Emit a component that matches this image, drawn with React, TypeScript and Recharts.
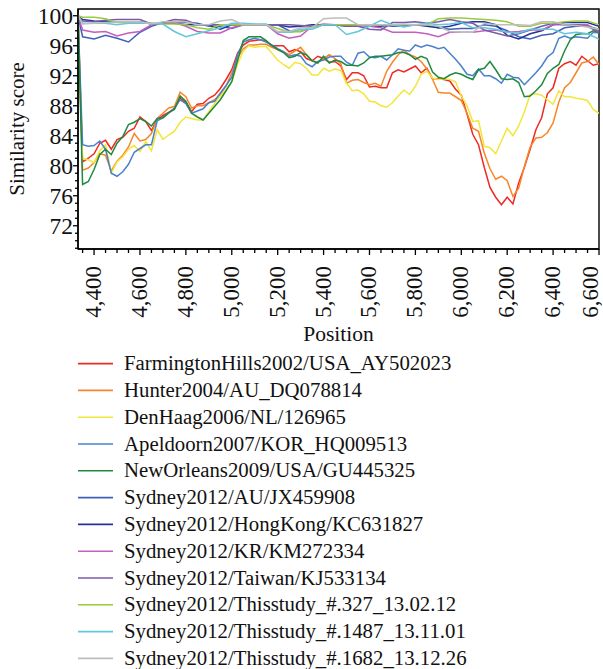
import React from 'react';
import { LineChart, Line, XAxis, YAxis, ReferenceArea } from 'recharts';

const FONT = '"Liberation Serif", "Times New Roman", serif';

// sampling positions (nt) for the strongly varying strains
const POS_FINE = [
    4330, 4350, 4375, 4400, 4425, 4450, 4475, 4500, 4525, 4550, 4575, 4600, 4625, 4650, 4675, 4700,
    4725, 4750, 4775, 4800, 4825, 4850, 4875, 4900, 4925, 4950, 4975, 5000, 5025, 5050, 5075, 5100,
    5125, 5150, 5175, 5200, 5225, 5250, 5275, 5300, 5325, 5350, 5375, 5400, 5425, 5450, 5475, 5500,
    5525, 5550, 5575, 5600, 5625, 5650, 5675, 5700, 5725, 5750, 5775, 5800, 5825, 5850, 5875, 5900,
    5925, 5950, 5975, 6000, 6025, 6050, 6075, 6100, 6125, 6150, 6175, 6200, 6225, 6250, 6275, 6300,
    6325, 6350, 6375, 6400, 6425, 6450, 6475, 6500, 6525, 6550, 6575, 6600,
];

// sampling positions for the Sydney2012 strains (all close to 100%)
const POS_COARSE = [
    4330, 4350, 4400, 4450, 4500, 4550, 4600, 4650, 4700, 4750,
    4800, 4850, 4900, 4950, 5000, 5050, 5100, 5150, 5200, 5250,
    5300, 5350, 5400, 5450, 5500, 5550, 5600, 5650, 5700, 5750,
    5800, 5850, 5900, 5950, 6000, 6050, 6100, 6150, 6200, 6250,
    6300, 6350, 6400, 6450, 6500, 6550, 6600,
];

const FARMINGTON = [
    100, 80.5, 81.0, 81.6, 83.0, 83.4, 82.2, 83.5, 83.8, 84.6,
    85.0, 86.5, 85.9, 84.7, 86.2, 86.7, 87.1, 87.6, 89.0, 88.5,
    87.2, 88.2, 88.3, 89.0, 89.4, 90.3, 91.5, 92.8, 95.0, 96.1,
    96.6, 96.7, 96.8, 96.6, 96.0, 96.0, 96.0, 95.2, 95.5, 95.2,
    94.3, 94.0, 94.6, 94.3, 93.8, 93.9, 93.3, 91.5, 92.4, 92.4,
    92.0, 90.5, 90.6, 90.4, 90.4, 92.4, 92.8, 92.5, 92.9, 93.3,
    92.4, 93.0, 91.6, 91.6, 91.5, 91.3, 90.2, 89.4, 86.9, 84.2,
    82.8, 79.8, 77.1, 75.8, 74.8, 75.8, 74.9, 77.7, 79.8, 82.2,
    84.8, 86.4, 89.6, 90.4, 93.0, 93.6, 93.9, 93.4, 94.6, 94.0,
    93.4, 93.6,
];

const HUNTER = [
    100, 79.4, 79.7, 80.4, 81.6, 81.4, 79.3, 80.6, 81.4, 82.5,
    84.3, 83.3, 83.5, 84.3, 86.3, 87.0, 87.7, 87.9, 89.8, 89.2,
    87.7, 88.0, 88.0, 88.4, 88.8, 89.5, 90.6, 92.4, 94.4, 95.6,
    96.1, 96.1, 96.2, 96.2, 95.8, 95.5, 95.2, 94.8, 95.3, 95.8,
    94.8, 94.0, 93.8, 94.3, 94.8, 94.3, 93.6, 91.0, 91.4, 91.5,
    91.1, 90.8, 91.0, 90.6, 92.6, 93.8, 94.8, 95.4, 94.8, 94.5,
    93.9, 92.9, 91.5, 89.8, 89.7, 89.7, 89.2, 88.7, 87.0, 85.0,
    84.6, 81.7, 79.6, 78.2, 78.6, 78.0, 75.9, 77.0, 79.9, 82.5,
    83.7, 83.8, 84.4, 85.7, 88.5, 90.4, 91.1, 92.4, 93.7, 93.9,
    94.5, 93.5,
];

const DENHAAG = [
    100, 81.0, 80.8, 80.4, 82.0, 82.8, 79.0, 80.5, 81.2, 82.2,
    82.7, 81.9, 83.2, 82.0, 84.8, 83.5, 84.1, 84.6, 85.8, 86.5,
    86.3, 86.1, 86.1, 87.2, 88.3, 89.3, 90.1, 91.2, 93.5, 95.3,
    96.0, 95.8, 95.9, 95.9, 95.0, 94.1, 93.5, 93.0, 93.8, 93.6,
    93.0, 92.1, 92.1, 93.0, 92.6, 92.9, 92.7, 91.0, 90.0, 90.1,
    89.6, 88.6, 88.5, 88.0, 87.8, 88.4, 89.3, 90.1, 89.5, 90.6,
    92.2, 92.6, 91.7, 91.5, 91.6, 91.5, 91.2, 89.3, 88.0, 85.9,
    86.0, 82.6, 82.4, 81.6, 83.3, 85.0, 84.0, 85.3, 87.2, 89.5,
    89.6, 89.4, 88.8, 88.2, 90.0, 89.2, 89.2, 89.0, 88.9, 88.7,
    87.5, 87.0,
];

const APELDOORN = [
    100, 82.8, 82.6, 82.7, 83.3, 82.2, 79.0, 78.6, 79.2, 80.2,
    81.8, 82.3, 82.8, 82.8, 86.0, 86.4, 87.0, 87.7, 88.8, 88.3,
    87.0, 87.3, 87.6, 88.4, 88.6, 89.7, 90.7, 91.8, 94.8, 96.5,
    96.8, 97.0, 96.8, 96.5, 96.1, 95.6, 95.2, 94.6, 94.8, 94.6,
    93.6, 93.2, 93.9, 94.1, 94.5, 94.6, 94.6, 93.8, 93.4, 95.0,
    95.2, 94.5, 94.4, 94.6, 94.1, 94.8, 95.6, 95.4, 95.3, 96.1,
    95.8, 96.1, 95.9, 95.6, 95.8, 95.0, 94.2, 93.3, 92.2, 92.0,
    92.9, 92.0, 92.0, 91.6, 91.0, 92.2, 91.8, 91.7, 90.8, 91.6,
    92.4, 93.3, 94.5, 95.1, 97.0, 97.3, 97.0, 97.2, 97.1, 97.0,
    97.8, 97.7,
];

const NEWORLEANS = [
    100, 77.5, 77.9, 79.5, 81.5, 82.2, 81.5, 83.0, 83.9, 85.5,
    85.8, 86.3, 85.9, 85.3, 86.3, 86.4, 87.1, 87.5, 89.3, 88.6,
    87.0, 86.5, 86.1, 87.0, 87.9, 88.8, 90.0, 91.2, 94.0, 96.7,
    97.2, 97.2, 97.2, 96.7, 96.0, 95.5, 95.1, 94.4, 94.6, 95.1,
    94.8, 94.0, 93.7, 94.6, 93.7, 94.1, 93.9, 93.4, 93.4, 93.3,
    93.7, 94.4, 94.6, 94.6, 94.7, 94.8, 95.1, 95.1, 94.8, 94.2,
    94.6, 94.3, 92.5, 91.8, 91.6, 92.1, 92.4, 92.2, 91.8, 91.5,
    92.8, 93.0, 93.9, 92.8, 91.6, 91.5, 91.6, 91.1, 89.2, 89.3,
    90.0, 90.8, 92.3, 93.0, 93.5, 95.3, 96.8, 97.5, 97.6, 97.6,
    98.0, 97.8,
];

const SYD_AU = [
    100, 97.2, 96.9, 97.4, 97.0, 96.5, 97.8, 98.6, 99.1, 99.1,
    99.1, 99.0, 98.6, 98.6, 98.3, 98.8, 98.8, 98.8, 98.8, 98.0,
    97.9, 98.5, 98.8, 98.8, 98.6, 98.6, 98.8, 98.8, 98.6, 98.6,
    98.8, 98.8, 98.4, 98.2, 98.3, 98.3, 98.8, 98.6, 98.0, 97.2,
    96.9, 97.4, 97.6, 98.4, 98.6, 98.6, 98.2,
];

const SYD_HK = [
    100, 99.5, 99.3, 99.2, 99.2, 99.2, 99.2, 98.9, 99.0, 99.0,
    98.8, 98.8, 98.8, 98.2, 98.8, 98.8, 98.8, 98.8, 98.8, 98.5,
    98.6, 98.8, 98.8, 98.8, 98.8, 98.8, 98.6, 98.6, 98.8, 98.8,
    98.8, 98.6, 98.4, 98.6, 99.0, 99.2, 99.2, 98.8, 97.4, 96.9,
    97.6, 98.0, 98.8, 99.1, 99.1, 99.1, 98.6,
];

const SYD_KR = [
    100, 98.1, 97.8, 97.9, 97.3, 97.7, 97.9, 98.8, 99.1, 99.1,
    98.6, 97.9, 97.7, 97.7, 98.4, 98.8, 98.8, 98.8, 97.6, 97.0,
    97.3, 98.6, 98.9, 98.8, 98.8, 98.8, 98.6, 98.4, 97.8, 97.8,
    97.8, 97.6, 97.2, 97.8, 97.8, 97.8, 98.0, 98.1, 97.8, 97.9,
    98.1, 98.1, 98.8, 98.8, 98.8, 98.8, 97.9,
];

const SYD_TW = [
    100, 99.3, 99.2, 99.4, 99.5, 99.5, 99.5, 98.9, 99.1, 99.5,
    99.4, 98.8, 98.8, 98.8, 98.8, 98.8, 98.8, 98.8, 98.8, 98.8,
    98.7, 98.6, 98.8, 98.8, 98.6, 98.6, 98.2, 98.1, 99.1, 99.1,
    99.2, 99.0, 99.2, 99.5, 99.2, 99.0, 98.1, 97.7, 97.3, 97.6,
    98.1, 98.6, 99.0, 98.8, 98.8, 98.6, 97.8,
];

const SYD_327 = [
    100, 99.8, 99.8, 99.6, 99.1, 99.1, 99.1, 99.0, 98.9, 98.9,
    98.8, 98.4, 98.2, 98.8, 98.8, 98.8, 98.8, 98.8, 98.3, 97.8,
    97.9, 98.5, 98.8, 98.8, 98.8, 98.8, 98.8, 98.8, 98.8, 98.8,
    98.8, 98.8, 99.6, 99.7, 99.7, 99.6, 99.5, 99.4, 99.2, 98.6,
    98.6, 99.0, 99.0, 99.2, 99.3, 99.3, 98.8,
];

const SYD_1487 = [
    100, 99.0, 99.0, 99.0, 98.8, 99.0, 99.0, 99.0, 98.9, 97.9,
    97.2, 97.6, 98.0, 98.4, 99.0, 99.0, 98.9, 98.9, 97.8, 97.8,
    98.2, 98.2, 98.8, 98.8, 97.5, 97.9, 98.6, 99.4, 98.8, 98.5,
    98.8, 99.0, 98.8, 98.9, 99.1, 98.4, 98.4, 98.2, 97.8, 97.7,
    98.2, 98.2, 98.2, 97.6, 97.8, 97.6, 96.9,
];

const SYD_1682 = [
    100, 98.9, 99.0, 99.1, 99.2, 99.2, 99.2, 98.9, 99.2, 99.2,
    99.2, 98.8, 98.8, 99.3, 99.5, 98.8, 98.8, 98.8, 97.9, 97.9,
    98.4, 98.4, 99.6, 99.7, 99.7, 98.8, 98.8, 98.8, 98.8, 98.9,
    98.8, 98.8, 98.6, 97.9, 97.8, 97.8, 99.0, 98.8, 98.8, 98.8,
    98.7, 99.2, 99.2, 98.8, 98.7, 98.5, 98.2,
];

const SERIES = [
    { name: 'FarmingtonHills2002/USA_AY502023', color: '#ee2a24', pos: POS_FINE, values: FARMINGTON },
    { name: 'Hunter2004/AU_DQ078814', color: '#f7862a', pos: POS_FINE, values: HUNTER },
    { name: 'DenHaag2006/NL/126965', color: '#f2e63a', pos: POS_FINE, values: DENHAAG },
    { name: 'Apeldoorn2007/KOR_HQ009513', color: '#4a80cc', pos: POS_FINE, values: APELDOORN },
    { name: 'NewOrleans2009/USA/GU445325', color: '#1f8a3f', pos: POS_FINE, values: NEWORLEANS },
    { name: 'Sydney2012/AU/JX459908', color: '#4160b8', pos: POS_COARSE, values: SYD_AU },
    { name: 'Sydney2012/HongKong/KC631827', color: '#22339a', pos: POS_COARSE, values: SYD_HK },
    { name: 'Sydney2012/KR/KM272334', color: '#c35fbf', pos: POS_COARSE, values: SYD_KR },
    { name: 'Sydney2012/Taiwan/KJ533134', color: '#7a5aa8', pos: POS_COARSE, values: SYD_TW },
    { name: 'Sydney2012/Thisstudy_#.327_13.02.12', color: '#9acb3c', pos: POS_COARSE, values: SYD_327 },
    { name: 'Sydney2012/Thisstudy_#.1487_13.11.01', color: '#62c6dc', pos: POS_COARSE, values: SYD_1487 },
    { name: 'Sydney2012/Thisstudy_#.1682_13.12.26', color: '#bdbdbd', pos: POS_COARSE, values: SYD_1682 },
];

// major + minor ticks
const X_TICKS = Array.from({ length: 46 }, (_, i) => 4350 + i * 50);
const Y_TICKS = Array.from({ length: 32 }, (_, i) => 69 + i);
const X_DOMAIN: [number, number] = [4330, 6600];
const Y_DOMAIN: [number, number] = [68.9, 100.9];

const XTick = (props: any) => {
    const { x, y, payload } = props;
    const v = payload.value as number;
    const major = v % 200 === 0;
    return (
        <g>
            <line x1={x} x2={x} y1={y} y2={y + (major ? 6 : 4)} stroke="#000" strokeWidth={1.3} />
            {major && (
                <text
                    transform={`translate(${Math.min(x + 7, 598)},${y + 17}) rotate(-90)`}
                    textAnchor="end"
                    fontSize={23}
                    fontFamily={FONT}
                    fill="#111"
                >
                    {v.toLocaleString('en-US')}
                </text>
            )}
        </g>
    );
};

const YTick = (props: any) => {
    const { x, y, payload } = props;
    const v = payload.value as number;
    const major = v % 4 === 0;
    return (
        <g>
            <line x1={x - (major ? 5 : 3)} x2={x} y1={y} y2={y} stroke="#000" strokeWidth={1.3} />
            {major && (
                <text x={x - 5} y={y + 8} textAnchor="end" fontSize={23.5} fontFamily={FONT} fill="#111">
                    {v}
                </text>
            )}
        </g>
    );
};

export default function App() {
    return (
        <div style={{ position: 'absolute', left: 0, top: 0, width: 603, height: 669, background: '#fff' }}>
            <LineChart width={603} height={350} margin={{ top: 9, right: 4, bottom: 0, left: 0 }}>
                <XAxis
                    dataKey="p"
                    type="number"
                    domain={X_DOMAIN}
                    ticks={X_TICKS}
                    interval={0}
                    tick={<XTick />}
                    tickSize={0}
                    tickMargin={0}
                    tickLine={false}
                    axisLine={{ stroke: '#000', strokeWidth: 1.4 }}
                    height={101}
                    allowDataOverflow
                />
                <YAxis
                    type="number"
                    domain={Y_DOMAIN}
                    ticks={Y_TICKS}
                    interval={0}
                    tick={<YTick />}
                    tickSize={0}
                    tickMargin={0}
                    tickLine={false}
                    axisLine={{ stroke: '#000', strokeWidth: 1.4 }}
                    width={78}
                    allowDataOverflow
                />
                <ReferenceArea
                    x1={X_DOMAIN[0]}
                    x2={X_DOMAIN[1]}
                    y1={Y_DOMAIN[0]}
                    y2={Y_DOMAIN[1]}
                    fill="none"
                    stroke="#000"
                    strokeWidth={1.4}
                />
                {SERIES.map((s) => (
                    <Line
                        key={s.name}
                        data={s.pos.map((p, i) => ({ p, v: s.values[i] }))}
                        dataKey="v"
                        name={s.name}
                        type="linear"
                        stroke={s.color}
                        strokeWidth={1.5}
                        dot={false}
                        activeDot={false}
                        isAnimationActive={false}
                    />
                ))}
            </LineChart>
            <svg width={603} height={669} style={{ position: 'absolute', left: 0, top: 0, pointerEvents: 'none' }}>
                <text
                    transform="translate(24,129) rotate(-90)"
                    textAnchor="middle"
                    fontSize={21}
                    fontFamily={FONT}
                    fill="#111"
                >
                    Similarity score
                </text>
                <text x={338.5} y={341} textAnchor="middle" fontSize={21.5} fontFamily={FONT} fill="#111">
                    Position
                </text>
                {SERIES.map((s, i) => {
                    const y = 363.6 + i * 26.8;
                    return (
                        <g key={s.name}>
                            <line x1={78} x2={113} y1={y} y2={y} stroke={s.color} strokeWidth={1.6} />
                            <text x={124} y={y + 6.5} fontSize={20.8} fontFamily={FONT} fill="#111">
                                {s.name}
                            </text>
                        </g>
                    );
                })}
            </svg>
        </div>
    );
}
